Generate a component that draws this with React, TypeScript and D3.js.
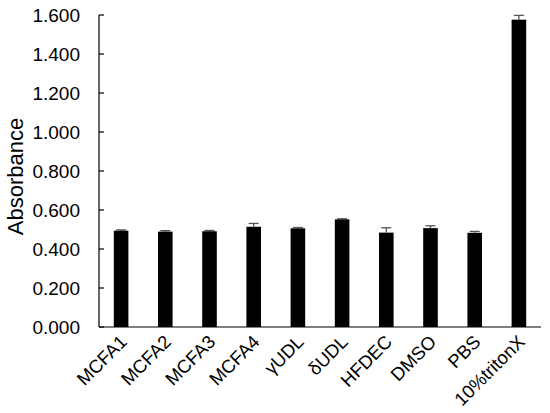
import React from "react";
import * as d3 from "d3";

const categories = ["MCFA1", "MCFA2", "MCFA3", "MCFA4", "γUDL", "δUDL", "HFDEC", "DMSO", "PBS", "10%tritonX"];
const values = [0.494, 0.489, 0.491, 0.514, 0.506, 0.552, 0.484, 0.507, 0.483, 1.576];
const errors = [0.004, 0.005, 0.004, 0.017, 0.004, 0.003, 0.025, 0.012, 0.007, 0.022];
const yTicks = [0, 0.2, 0.4, 0.6, 0.8, 1.0, 1.2, 1.4, 1.6];

export default function App() {
  const W = 550, H = 413;
  const left = 99, right = 541, top = 15, bottom = 327;
  const x = d3.scaleBand<string>().domain(categories).range([left, right]).paddingInner(0.67).paddingOuter(0.335);
  const y = d3.scaleLinear().domain([0, 1.6]).range([bottom, top]);
  const fmt = d3.format(".3f");
  const font = "Arial, 'Liberation Sans', sans-serif";
  return (
    <svg width={W} height={H} style={{ position: "absolute", left: 0, top: 0, background: "#fff" }} fontFamily={font}>
      {yTicks.map((t) => (
        <g key={t}>
          <line x1={left} x2={left + 5} y1={y(t)} y2={y(t)} stroke="#000" strokeWidth={1.2} />
          <text x={80} y={y(t)} dy="0.36em" textAnchor="end" fontSize={19} fill="#000">{fmt(t)}</text>
        </g>
      ))}
      {categories.map((c, i) => {
        const bx = x(c)!;
        const bw = x.bandwidth();
        const cx = bx + bw / 2;
        return (
          <g key={c}>
            <line x1={cx} x2={cx} y1={y(values[i])} y2={y(values[i] + errors[i])} stroke="#555" strokeWidth={1.3} />
            <line x1={cx - 5} x2={cx + 5} y1={y(values[i] + errors[i])} y2={y(values[i] + errors[i])} stroke="#555" strokeWidth={1.3} />
            <rect x={bx} y={y(values[i])} width={bw} height={bottom - y(values[i])} fill="#000" />
            <text transform={`translate(${cx + 7},${bottom + 16}) rotate(-45)`} textAnchor="end" fontSize={18.5} fill="#000">{c}</text>
          </g>
        );
      })}
      <line x1={left} x2={left} y1={top} y2={bottom} stroke="#000" strokeWidth={1.2} />
      <line x1={left} x2={right} y1={bottom} y2={bottom} stroke="#000" strokeWidth={1.2} />
      <text transform={`translate(23,${(120 + 233) / 2}) rotate(-90)`} textAnchor="middle" fontSize={22} fill="#000">Absorbance</text>
    </svg>
  );
}
